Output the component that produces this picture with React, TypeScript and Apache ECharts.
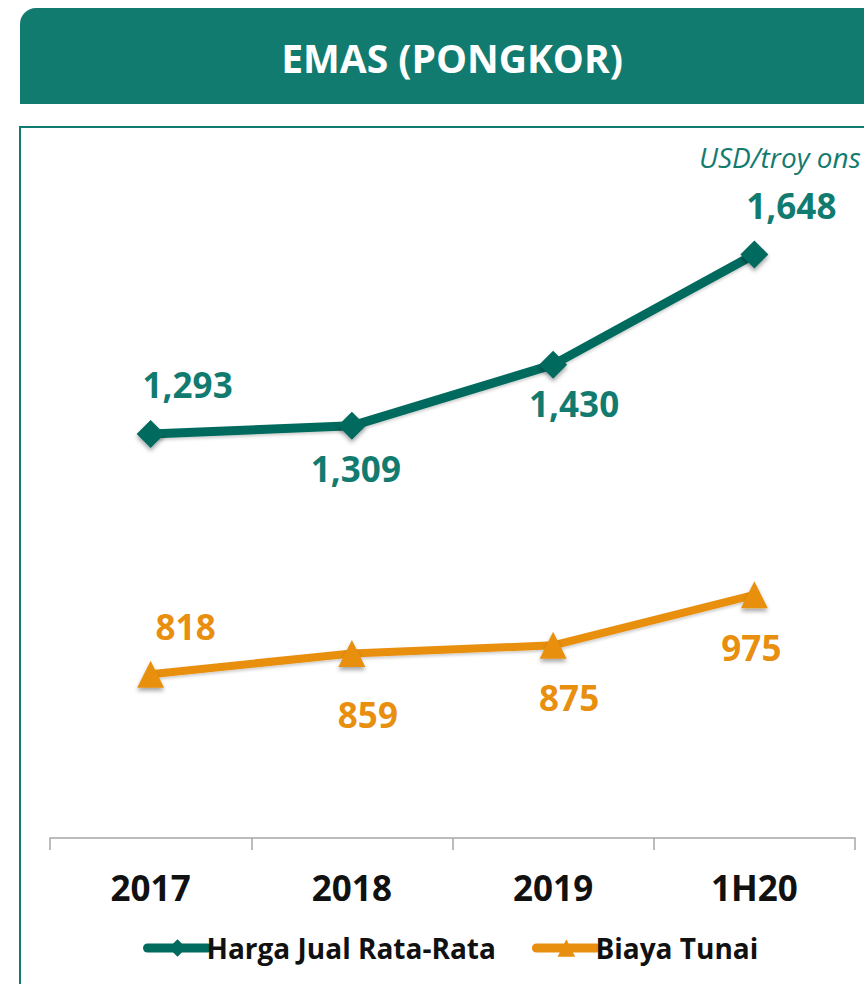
import React, { useEffect, useRef } from "react";
import * as echarts from "echarts";

const categories = ["2017", "2018", "2019", "1H20"];
const hargaJual = [1293, 1309, 1430, 1648];
const biayaTunai = [818, 859, 875, 975];
const seriesNames = ["Harga Jual Rata-Rata", "Biaya Tunai"];
const titleText = "EMAS (PONGKOR)";
const unitText = "USD/troy ons";

// label offsets (style only)
const hargaOffsets = [[37, -49], [4, 43], [21, 39], [37, -49]];
const biayaOffsets = [[35, -48], [16, 61], [16, 52], [-3, 53]];

const TEAL = "#127B70";
const LINE_TEAL = "#006B5E";
const ORANGE = "#E88F10";
const FONT = "'Open Sans', 'Noto Sans', sans-serif";

const fmt = (v: number) => v.toLocaleString("en-US");

export default function App() {
  const ref = useRef<HTMLDivElement>(null);
  useEffect(() => {
    if (!ref.current) return;
    const chart = echarts.init(ref.current, null, { renderer: "svg" });
    const shadow = {
      shadowColor: "rgba(0,0,0,0.35)",
      shadowBlur: 4,
      shadowOffsetY: 3,
    };
    chart.setOption({
      animation: false,
      backgroundColor: "#ffffff",
      graphic: [
        {
          type: "rect",
          shape: { x: 20, y: 8, width: 870, height: 96, r: [16, 0, 0, 0] },
          style: { fill: TEAL },
          z: 0,
        },
        {
          type: "text",
          x: 452,
          y: 57,
          style: {
            text: titleText,
            fill: "#ffffff",
            font: `bold 39px ${FONT}`,
            align: "center",
            verticalAlign: "middle",
          },
        },
        {
          type: "rect",
          shape: { x: 20, y: 127, width: 880, height: 900 },
          style: { fill: "none", stroke: TEAL, lineWidth: 2 },
          z: 0,
        },
        {
          type: "text",
          x: 699,
          y: 157,
          style: {
            text: unitText,
            fill: TEAL,
            font: `italic 28px ${FONT}`,
            align: "left",
            verticalAlign: "middle",
          },
        },
      ],
      grid: { left: 50, right: 9, top: 127, bottom: 146 },
      legend: {
        left: 138,
        top: 929,
        itemWidth: 60,
        itemHeight: 22,
        itemGap: 36,
        lineStyle: { width: 9, cap: "round" },
        textStyle: {
          fontFamily: FONT,
          fontWeight: "bold",
          fontSize: 28,
          color: "#111111",
          padding: [0, 0, 0, -6],
        },
        data: seriesNames,
      },
      xAxis: {
        type: "category",
        data: categories,
        boundaryGap: true,
        axisLine: { lineStyle: { color: "#A6A6A6", width: 1.5 } },
        axisTick: { show: true, length: 12, lineStyle: { color: "#A6A6A6", width: 1.5 } },
        axisLabel: {
          margin: 32,
          fontFamily: FONT,
          fontWeight: "bold",
          fontSize: 35,
          color: "#111111",
        },
      },
      yAxis: {
        type: "value",
        min: 494,
        max: 1900,
        show: false,
        splitLine: { show: false },
      },
      series: [
        {
          name: seriesNames[0],
          type: "line",
          data: hargaJual.map((v, i) => ({
            value: v,
            label: { offset: hargaOffsets[i] },
          })),
          symbol: "diamond",
          symbolSize: 28,
          lineStyle: { color: LINE_TEAL, width: 9, shadowBlur: 3, shadowOffsetY: 2, shadowColor: "rgba(0,0,0,0.2)" },
          itemStyle: { color: LINE_TEAL, ...shadow },
          label: {
            show: true,
            position: "inside",
            formatter: (p: any) => fmt(p.value),
            color: TEAL,
            fontFamily: FONT,
            fontWeight: "bold",
            fontSize: 35,
          },
          z: 3,
        },
        {
          name: seriesNames[1],
          type: "line",
          data: biayaTunai.map((v, i) => ({
            value: v,
            label: { offset: biayaOffsets[i] },
          })),
          symbol: "triangle",
          symbolSize: 27,
          lineStyle: { color: ORANGE, width: 8, shadowBlur: 3, shadowOffsetY: 2, shadowColor: "rgba(0,0,0,0.2)" },
          itemStyle: { color: ORANGE, ...shadow },
          label: {
            show: true,
            position: "inside",
            formatter: (p: any) => fmt(p.value),
            color: ORANGE,
            fontFamily: FONT,
            fontWeight: "bold",
            fontSize: 35,
          },
          z: 3,
        },
      ],
    });
    return () => chart.dispose();
  }, []);
  return (
    <div
      ref={ref}
      style={{ position: "fixed", left: 0, top: 0, width: 864, height: 984 }}
    />
  );
}
